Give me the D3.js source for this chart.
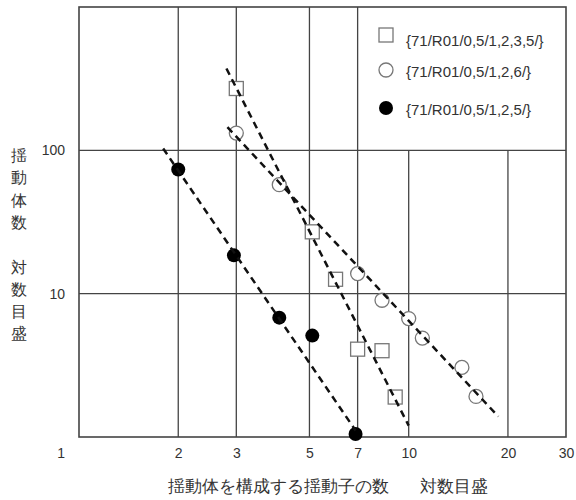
<!DOCTYPE html>
<html>
<head>
<meta charset="utf-8">
<script src="https://cdnjs.cloudflare.com/ajax/libs/d3/7.8.5/d3.min.js"></script>
<style>
  body { margin: 0; background: #fff; }
  text { font-family: "Liberation Sans", Arial, sans-serif; fill: #333; }
</style>
</head>
<body>
<script>
// series: {71/R01/0,5/1,2,3,5/} squares
var sqX = [3, 5.1, 6, 7, 8.3, 9.1];
var sqY = [270, 27, 12.6, 4.1, 4, 1.9];
// series: {71/R01/0,5/1,2,6/} open circles
var ciX = [3, 4.05, 7, 8.3, 10, 11, 14.5, 16];
var ciY = [132, 57.6, 13.8, 9, 6.7, 4.9, 3.06, 1.92];
// series: {71/R01/0,5/1,2,5/} filled circles
var fiX = [2, 2.95, 4.05, 5.1, 6.9];
var fiY = [73.5, 18.5, 6.8, 5.1, 1.05];

// dashed fit lines, [x0, y0, x1, y1]
var sqFit = [2.8, 372, 10, 1.2];
var ciFit = [2.82, 145, 18.7, 1.39];
var fiFit = [1.8, 103, 6.9, 1.11];

var legendLabels = ["{71/R01/0,5/1,2,3,5/}", "{71/R01/0,5/1,2,6/}", "{71/R01/0,5/1,2,5/}"];
var xTicks = [2, 3, 5, 7, 10, 20, 30];
var yTicks = [10, 100];
var xTitle = ["揺動体を構成する揺動子の数", "対数目盛"];
var yTitle = ["揺", "動", "体", "数", "", "対", "数", "目", "盛"];

var width = 576, height = 500;

var svg = d3.select("body").append("svg")
    .attr("width", width)
    .attr("height", height);

var x = d3.scaleLog().domain([1, 30]).range([79, 566]);
var y = d3.scaleLog().domain([1, 1000]).range([437, 7]);

var gridColor = "#444";

// grid lines
var grid = svg.append("g").attr("stroke", gridColor).attr("stroke-width", 1.3);
// vertical lines through the full height
grid.selectAll(".vfull")
    .data([2, 3, 5, 7])
    .enter().append("line")
    .attr("x1", d => x(d)).attr("x2", d => x(d))
    .attr("y1", y(1000)).attr("y2", y(1));
// vertical lines below the legend box
grid.selectAll(".vhalf")
    .data([10, 20])
    .enter().append("line")
    .attr("x1", d => x(d)).attr("x2", d => x(d))
    .attr("y1", y(100)).attr("y2", y(1));
grid.selectAll(".h")
    .data(yTicks)
    .enter().append("line")
    .attr("x1", x(1)).attr("x2", x(30))
    .attr("y1", d => y(d)).attr("y2", d => y(d));

// frame
svg.append("rect")
    .attr("x", x(1)).attr("y", y(1000))
    .attr("width", x(30) - x(1)).attr("height", y(1) - y(1000))
    .attr("fill", "none").attr("stroke", gridColor).attr("stroke-width", 1.6);

// axes (labels only)
var xAxis = svg.append("g")
    .attr("transform", "translate(0," + y(1) + ")")
    .call(d3.axisBottom(x).tickValues(xTicks).tickFormat(d3.format("d")).tickSize(0).tickPadding(11));
var yAxis = svg.append("g")
    .attr("transform", "translate(" + x(1) + ",0)")
    .call(d3.axisLeft(y).tickValues(yTicks).tickFormat(d3.format("d")).tickSize(0).tickPadding(14));
[xAxis, yAxis].forEach(function(a){
    a.select(".domain").remove();
    a.selectAll("text").attr("font-size", 14).attr("fill", "#333")
        .attr("font-family", "Liberation Sans, Arial, sans-serif");
});
// shared origin label "1"
svg.append("text")
    .attr("x", 65).attr("y", 458)
    .attr("text-anchor", "end")
    .attr("font-size", 14)
    .text("1");

// markers
svg.selectAll(".sq")
    .data(sqX)
    .enter().append("rect")
    .attr("x", (d, i) => x(d) - 7)
    .attr("y", (d, i) => y(sqY[i]) - 7)
    .attr("width", 14).attr("height", 14)
    .attr("fill", "#fff").attr("stroke", "#777").attr("stroke-width", 1.3);

svg.selectAll(".ci")
    .data(ciX)
    .enter().append("circle")
    .attr("cx", d => x(d))
    .attr("cy", (d, i) => y(ciY[i]))
    .attr("r", 7)
    .attr("fill", "#fff").attr("stroke", "#777").attr("stroke-width", 1.3);

svg.selectAll(".fi")
    .data(fiX)
    .enter().append("circle")
    .attr("cx", d => x(d))
    .attr("cy", (d, i) => y(fiY[i]))
    .attr("r", 7)
    .attr("fill", "#000");

// dashed fit lines
svg.selectAll(".fit")
    .data([sqFit, ciFit, fiFit])
    .enter().append("line")
    .attr("x1", d => x(d[0])).attr("y1", d => y(d[1]))
    .attr("x2", d => x(d[2])).attr("y2", d => y(d[3]))
    .attr("stroke", "#111")
    .attr("stroke-width", 2.5)
    .attr("stroke-dasharray", "7,5");

// legend
var legY = [35, 70, 108];
var legTextY = [46, 77, 115];
var leg = svg.append("g");
leg.append("rect")
    .attr("x", 379).attr("y", legY[0] - 7)
    .attr("width", 14).attr("height", 14)
    .attr("fill", "#fff").attr("stroke", "#777").attr("stroke-width", 1.3);
leg.append("circle")
    .attr("cx", 386).attr("cy", legY[1]).attr("r", 7)
    .attr("fill", "#fff").attr("stroke", "#777").attr("stroke-width", 1.3);
leg.append("circle")
    .attr("cx", 386).attr("cy", legY[2]).attr("r", 7)
    .attr("fill", "#000");
leg.selectAll("text")
    .data(legendLabels)
    .enter().append("text")
    .attr("x", 406)
    .attr("y", (d, i) => legTextY[i])
    .attr("font-size", 15)
    .attr("fill", "#444")
    .text(d => d);

// y title (vertical characters)
svg.selectAll(".ytitle")
    .data(yTitle)
    .enter().append("text")
    .attr("x", 19)
    .attr("y", (d, i) => 161 + i * 22.3)
    .attr("text-anchor", "middle")
    .attr("font-size", 16)
    .attr("font-family", "Noto Sans CJK JP")
    .text(d => d);

// x title
svg.selectAll(".xtitle")
    .data(xTitle)
    .enter().append("text")
    .attr("x", (d, i) => i === 0 ? 168 : 420)
    .attr("y", 492)
    .attr("font-size", 16.5)
    .attr("font-family", "Noto Sans CJK JP")
    .text(d => d);
</script>
</body>
</html>
